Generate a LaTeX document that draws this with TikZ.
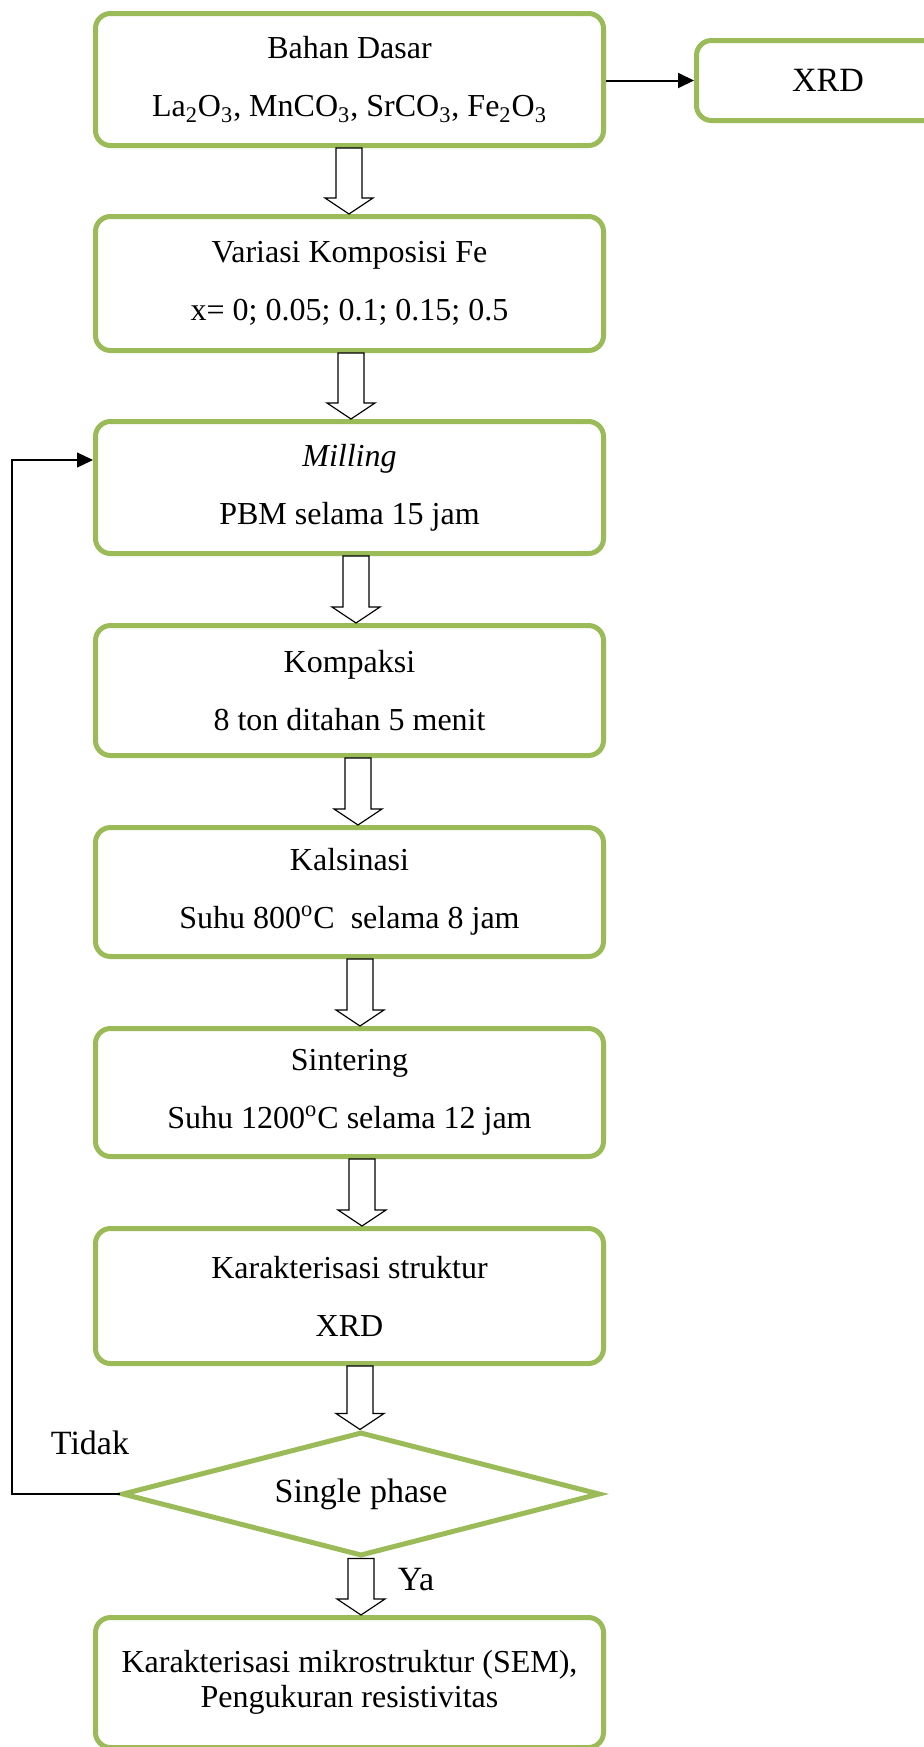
\documentclass[tikz,border=0pt]{standalone}
\usepackage{fontspec}
\setmainfont{Liberation Serif}
\usetikzlibrary{arrows.meta,positioning,shapes.geometric}
\definecolor{boxgreen}{HTML}{9BBB59}

% hollow block arrow between two nodes, at column x
\newcommand{\blockarr}[3]{%
  \coordinate (bs) at (#1,0 |- #2.south);
  \coordinate (bt) at (#1,0 |- #3.north);
  \draw[blockline] ([xshift=-6.5pt]bs) -- ([shift={(-6.5pt,8pt)}]bt)
    -- ([shift={(-12pt,8pt)}]bt) -- (bt) -- ([shift={(12pt,8pt)}]bt)
    -- ([shift={(6.5pt,8pt)}]bt) -- ([xshift=6.5pt]bs) -- cycle;}

\begin{document}
\begin{tikzpicture}[
  x=0.5pt,y=-0.5pt,
  >={Triangle[length=8pt,width=7.5pt]},
  font=\fontsize{16}{29}\selectfont,
  stepbox/.style={draw=boxgreen,line width=2.5pt,rounded corners=7.5pt,align=center,minimum width=254pt,minimum height=66pt},
  decide/.style={diamond,draw=boxgreen,line width=2.5pt,inner sep=0pt,aspect=3.85,minimum width=239pt,minimum height=62pt,font=\fontsize{17}{20}\selectfont},
  blockline/.style={draw=black,line width=0.6pt,fill=white,line join=miter},
  biglabel/.style={font=\fontsize{17}{20}\selectfont},
  flowarrow/.style={->,line width=1pt},
  fbline/.style={->,line width=0.7pt}
]
\useasboundingbox (0,0) rectangle (923,1747);

% ---- raw materials ----
\node[stepbox] (bahan) at (349.5,79.5) {Bahan Dasar\\
  La\textsubscript{2}O\textsubscript{3}, MnCO\textsubscript{3}, SrCO\textsubscript{3}, Fe\textsubscript{2}O\textsubscript{3}};
\node[stepbox,minimum width=131.5pt,minimum height=40pt,font=\fontsize{17}{20}\selectfont] (xrdA) at (828,80.5) {XRD};
\draw[flowarrow] (bahan.east |- xrdA.west) -- (xrdA.west);

% ---- process steps ----
\node[stepbox,minimum height=67pt] (variasi) at (349.5,283.5) {Variasi Komposisi Fe\\x= 0; 0.05; 0.1; 0.15; 0.5};
\node[stepbox] (mill) at (349.5,487.5) {\textit{Milling}\\PBM selama 15 jam};
\node[stepbox,minimum height=65pt] (kompaksi) at (349.5,690.5) {Kompaksi\\8 ton ditahan 5 menit};
\node[stepbox,minimum height=64.5pt] (kalsinasi) at (349.5,892) {Kalsinasi\\Suhu 800\textsuperscript{o}C\ \ selama 8 jam};
\node[stepbox,minimum height=64pt] (sinter) at (349.5,1092.5) {Sintering\\Suhu 1200\textsuperscript{o}C selama 12 jam};
\node[stepbox,minimum height=67.5pt] (struktur) at (349.5,1296) {Karakterisasi struktur\\XRD};

\blockarr{349}{bahan}{variasi}
\blockarr{351}{variasi}{mill}
\blockarr{356}{mill}{kompaksi}
\blockarr{358}{kompaksi}{kalsinasi}
\blockarr{360}{kalsinasi}{sinter}
\blockarr{362}{sinter}{struktur}

% ---- decision ----
\node[decide] (phase) at (361,1494) {Single phase};
\blockarr{360}{struktur}{phase}

\node[biglabel] (tidak) at (90,1443) {Tidak};
\coordinate (fbx) at (12,0);
\draw[fbline] (phase.west) -- (phase.west -| fbx) |- ([yshift=13.75pt]mill.west);

% ---- final characterisation ----
\node[stepbox,minimum height=65pt,font=\fontsize{16}{17.5}\selectfont] (sem) at (349.5,1682.5)
  {Karakterisasi mikrostruktur (SEM),\\Pengukuran resistivitas};
\blockarr{361}{phase}{sem}
\node[biglabel] (ya) at (416,1580) {Ya};

\end{tikzpicture}
\end{document}
